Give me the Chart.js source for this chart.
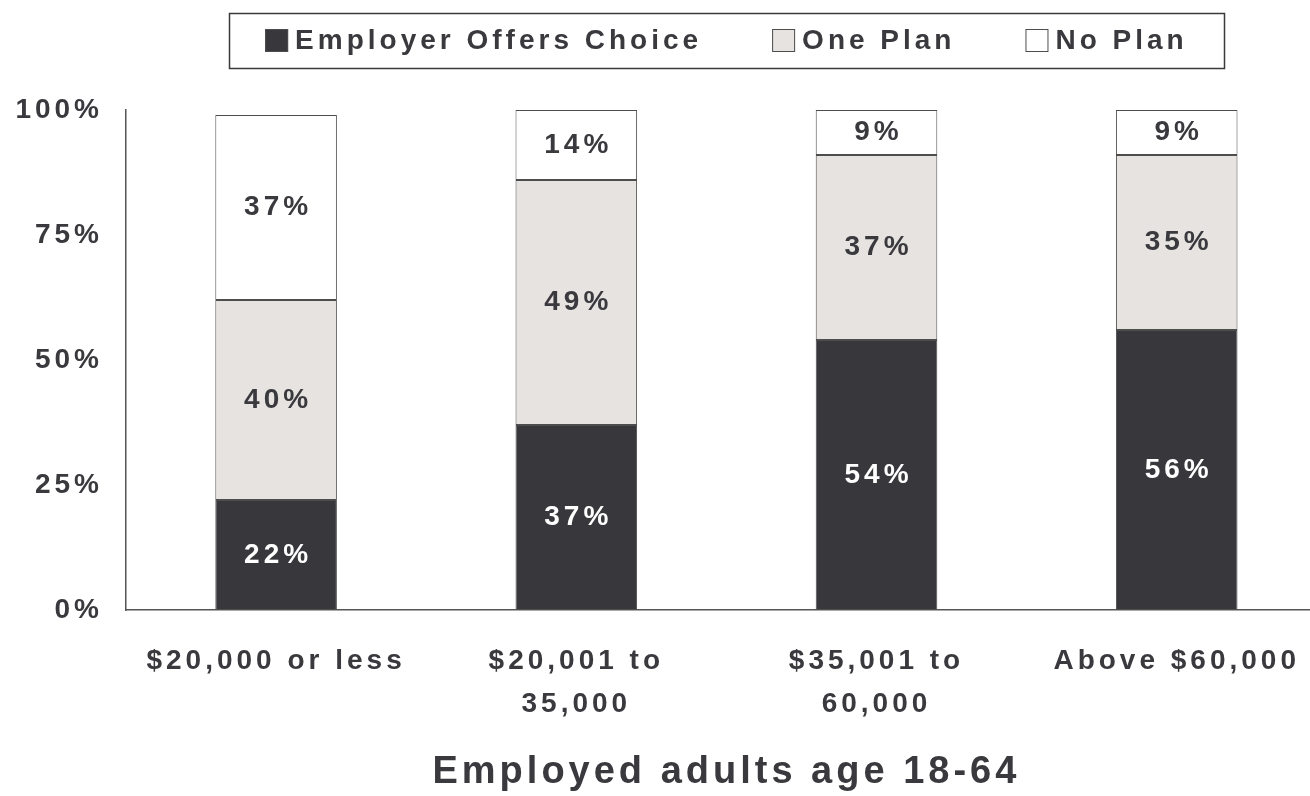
<!DOCTYPE html>
<html>
<head>
<meta charset="utf-8">
<script src="https://cdn.jsdelivr.net/npm/chart.js@4.4.0/dist/chart.umd.min.js"></script>
<style>
  html, body { margin: 0; padding: 0; background: #fff; overflow: hidden; }
  #wrap { width: 1330px; height: 796px; }
</style>
</head>
<body>
<div id="wrap"><canvas id="planChart"></canvas></div>
<script>
var categories = ["$20,000 or less", ["$20,001 to", "35,000"], ["$35,001 to", "60,000"], "Above $60,000"];
var seriesNames = ["Employer Offers Choice", "One Plan", "No Plan"];
var choiceValues = [22, 37, 54, 56];
var onePlanValues = [40, 49, 37, 35];
var noPlanValues = [37, 14, 9, 9];
var yTicks = [0, 25, 50, 75, 100];

var TEXT = "#3a393e";
var FONT = "'Liberation Sans', Arial, sans-serif";
var SPACING = "4px";
var fills = ["#38373c", "#e6e3e0", "#ffffff"];

// wide tracking on every piece of text
var tracking = {
  id: "tracking",
  beforeLayout: function (chart) { chart.ctx.letterSpacing = SPACING; },
  beforeDraw: function (chart) { chart.ctx.letterSpacing = SPACING; }
};

// framed legend row above the plot
var boxLegend = {
  id: "boxLegend",
  afterDraw: function (chart) {
    var ctx = chart.ctx;
    var area = chart.chartArea;
    var cx = (area.left + area.right) / 2;
    ctx.save();
    ctx.letterSpacing = SPACING;
    ctx.font = "bold 28px " + FONT;
    ctx.lineWidth = 1.5;
    ctx.strokeStyle = TEXT;
    ctx.strokeRect(Math.round(cx - 497.5) + 0.5, 13.5, 995, 55);

    var sq = 23, gap = 7, between = 70;
    var widths = seriesNames.map(function (n) { return ctx.measureText(n).width; });
    var total = 0;
    widths.forEach(function (w, i) { total += sq + gap + w + (i > 0 ? between : 0); });
    var x = cx - total / 2;
    ctx.textBaseline = "middle";
    ctx.textAlign = "left";
    seriesNames.forEach(function (n, i) {
      ctx.fillStyle = fills[i];
      ctx.fillRect(x, 29, sq, sq);
      ctx.lineWidth = 1;
      ctx.strokeStyle = "#4d4d4d";
      ctx.strokeRect(x + 0.5, 29.5, sq - 1, sq - 1);
      ctx.fillStyle = TEXT;
      ctx.fillText(n, x + sq + gap, 41);
      x += sq + gap + widths[i] + between;
    });
    ctx.restore();
  }
};

// percentage written in the middle of each segment
var segmentLabels = {
  id: "segmentLabels",
  afterDatasetsDraw: function (chart) {
    var ctx = chart.ctx;
    ctx.save();
    ctx.letterSpacing = SPACING;
    ctx.font = "bold 28px " + FONT;
    ctx.textAlign = "center";
    ctx.textBaseline = "middle";
    chart.data.datasets.forEach(function (ds, di) {
      var meta = chart.getDatasetMeta(di);
      meta.data.forEach(function (bar, i) {
        ctx.fillStyle = di === 0 ? "#ffffff" : TEXT;
        ctx.fillText(ds.data[i] + "%", bar.x + 2, (bar.y + bar.base) / 2);
      });
    });
    ctx.restore();
  }
};

var barStyle = { borderColor: "#4d4d4d", borderWidth: 1, borderSkipped: false, barPercentage: 0.405, categoryPercentage: 1 };

new Chart(document.getElementById("planChart"), {
  type: "bar",
  data: {
    labels: categories,
    datasets: [
      Object.assign({ label: seriesNames[0], data: choiceValues, backgroundColor: fills[0] }, barStyle),
      Object.assign({ label: seriesNames[1], data: onePlanValues, backgroundColor: fills[1] }, barStyle),
      Object.assign({ label: seriesNames[2], data: noPlanValues, backgroundColor: fills[2] }, barStyle)
    ]
  },
  options: {
    responsive: true,
    maintainAspectRatio: false,
    animation: false,
    layout: { padding: { top: 110, left: 0, right: 0, bottom: 0 } },
    plugins: { legend: { display: false }, tooltip: { enabled: false } },
    scales: {
      x: {
        stacked: true,
        grid: { display: false, drawTicks: false },
        border: { display: true, color: "#555555", width: 1.5 },
        ticks: { color: TEXT, padding: 30, font: { family: FONT, size: 28, weight: "bold", lineHeight: 1.536 } },
        title: {
          display: true,
          text: "Employed adults age 18-64",
          color: TEXT,
          padding: { top: 0, bottom: 4 },
          font: { family: FONT, size: 38, weight: "bold", lineHeight: 1.0 }
        },
        afterFit: function (scale) { scale.height = 186; }
      },
      y: {
        stacked: true,
        min: 0,
        max: 100,
        grid: { display: false, drawTicks: false },
        border: { display: true, color: "#555555", width: 1.5 },
        afterBuildTicks: function (scale) { scale.ticks = yTicks.map(function (v) { return { value: v }; }); },
        ticks: {
          color: TEXT,
          padding: 23,
          font: { family: FONT, size: 28, weight: "bold" },
          callback: function (v) { return v + "%"; }
        },
        afterFit: function (scale) { scale.width = 126; }
      }
    }
  },
  plugins: [tracking, boxLegend, segmentLabels]
});
</script>
</body>
</html>
